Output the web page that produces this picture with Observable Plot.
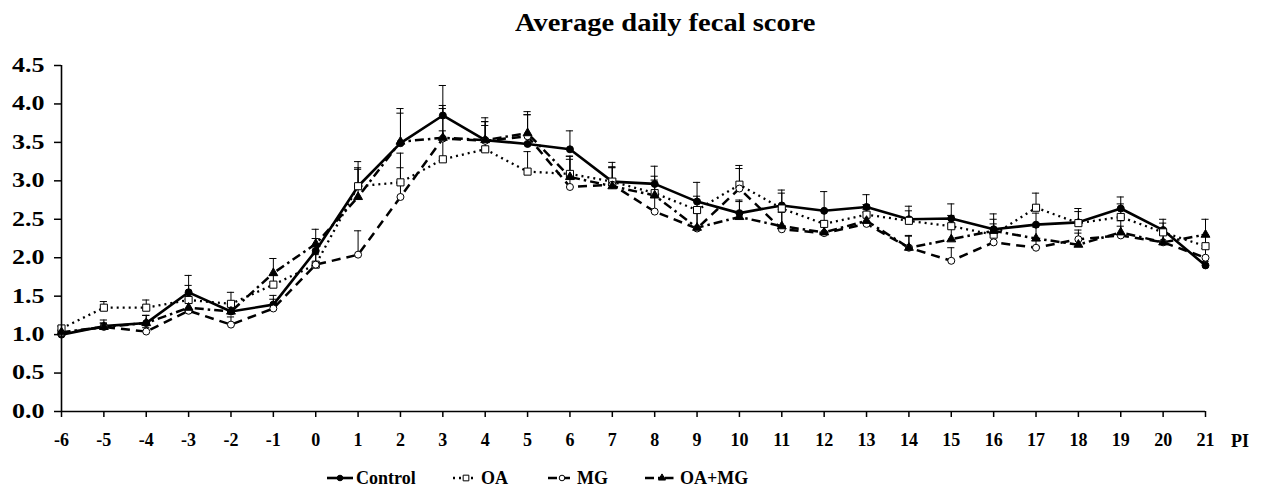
<!DOCTYPE html>
<html>
<head>
<meta charset="utf-8">
<script src="https://cdn.jsdelivr.net/npm/d3@7"></script>
<script src="https://cdn.jsdelivr.net/npm/@observablehq/plot@0.6"></script>
<style>
  html, body { margin: 0; padding: 0; background: #fff; }
  #wrap { position: relative; width: 1263px; height: 489px; overflow: hidden;
          font-family: "Liberation Serif", "Times New Roman", serif; font-weight: bold; color: #000; }
  #title { position: absolute; left: 515px; top: 10px; font-size: 25px; line-height: 25px;
           white-space: nowrap; transform: scaleX(1.14); transform-origin: 0 0; }
  #chart { position: absolute; left: 0; top: 0; }
  #overlay { position: absolute; left: 0; top: 0; pointer-events: none; }
</style>
</head>
<body>
<div id="wrap">
  <div id="chart"></div>
  <div id="title">Average daily fecal score</div>
  <svg id="overlay" width="1263" height="489"></svg>
</div>
<script>
// ---- data ----
const days = [-6,-5,-4,-3,-2,-1,0,1,2,3,4,5,6,7,8,9,10,11,12,13,14,15,16,17,18,19,20,21];
const yTicks = [0,0.5,1,1.5,2,2.5,3,3.5,4,4.5];
const seriesNames = ["Control","OA","MG","OA+MG"];

const control   = [1.00,1.11,1.15,1.55,1.30,1.39,2.09,2.93,3.49,3.85,3.53,3.48,3.41,2.99,2.96,2.73,2.58,2.68,2.61,2.66,2.50,2.51,2.37,2.43,2.46,2.64,2.36,1.90];
const controlSE = [0.03,0.08,0.10,0.22,0.10,0.12,0.16,0.32,0.45,0.39,0.29,0.42,0.24,0.25,0.23,0.25,0.17,0.20,0.25,0.16,0.17,0.19,0.20,0.15,0.18,0.15,0.14,0.05];
const oa        = [1.08,1.35,1.35,1.45,1.40,1.65,1.91,2.93,2.98,3.28,3.41,3.12,3.09,2.99,2.84,2.62,2.95,2.64,2.44,2.56,2.48,2.41,2.30,2.65,2.45,2.53,2.33,2.15];
const oaSE      = [0.03,0.08,0.10,0.19,0.15,0.12,0.13,0.22,0.38,0.37,0.31,0.26,0.23,0.19,0.17,0.18,0.25,0.20,0.17,0.13,0.13,0.14,0.14,0.19,0.15,0.17,0.12,0.15];
const mg        = [1.02,1.10,1.04,1.31,1.13,1.34,1.91,2.04,2.79,3.55,3.52,3.58,2.92,2.95,2.60,2.38,2.90,2.37,2.32,2.44,2.13,1.96,2.20,2.13,2.24,2.29,2.20,2.00];
const mgSE      = [0.03,0.05,0.05,0.15,0.10,0.12,0.15,0.31,0.38,0.39,0.25,0.28,0.36,0.22,0.20,0.20,0.26,0.22,0.15,0.15,0.15,0.17,0.12,0.12,0.12,0.12,0.10,0.12];
const oamg      = [1.03,1.10,1.15,1.35,1.30,1.80,2.18,2.79,3.51,3.56,3.53,3.62,3.05,2.93,2.81,2.39,2.53,2.41,2.33,2.48,2.13,2.24,2.35,2.25,2.17,2.33,2.20,2.30];
const oamgSE    = [0.03,0.05,0.10,0.15,0.10,0.19,0.19,0.38,0.37,0.42,0.24,0.24,0.27,0.25,0.25,0.20,0.20,0.22,0.15,0.15,0.16,0.20,0.15,0.15,0.15,0.15,0.15,0.20];

// ---- styles ----
const styles = {
  "Control": {dash: "none",      sw: 2.6, symbol: "circle",   fill: "black", r: 3.5},
  "OA":      {dash: "2 4",       sw: 2.3, symbol: "square",   fill: "white", r: 4.0},
  "MG":      {dash: "9 6",       sw: 2.5, symbol: "circle",   fill: "white", r: 3.5},
  "OA+MG":   {dash: "9 4 2.5 4", sw: 2.5, symbol: "triangle", fill: "black", r: 3.3}
};
const seriesData = {"Control": [control, controlSE], "OA": [oa, oaSE], "MG": [mg, mgSE], "OA+MG": [oamg, oamgSE]};

const capHalf = 0.085; // half cap width in day units
const marks = [];
for (const name of seriesNames) {
  const [vals, se] = seriesData[name];
  const rows = days.map((d, i) => ({day: d, v: vals[i], top: vals[i] + se[i]}));
  const s = styles[name];
  marks.push(Plot.line(rows, {x: "day", y: "v", stroke: "black", strokeWidth: s.sw,
    strokeDasharray: s.dash, strokeLinejoin: "miter", strokeLinecap: "butt"}));
  marks.push(Plot.ruleX(rows, {x: "day", y1: "v", y2: "top", stroke: "black", strokeWidth: 1}));
  marks.push(Plot.ruleY(rows, {y: "top", x1: d => d.day - capHalf, x2: d => d.day + capHalf, stroke: "black", strokeWidth: 1}));
}
for (const name of seriesNames) {
  const [vals] = seriesData[name];
  const rows = days.map((d, i) => ({day: d, v: vals[i]}));
  const s = styles[name];
  marks.push(Plot.dot(rows, {x: "day", y: "v", symbol: s.symbol, r: s.r, fill: s.fill,
    stroke: "black", strokeWidth: 1}));
}

const chart = Plot.plot({
  width: 1263, height: 489,
  marginLeft: 61, marginRight: 58, marginTop: 65, marginBottom: 78,
  style: {fontFamily: "'Liberation Serif', 'Times New Roman', serif", fontWeight: "bold", background: "white", color: "black"},
  x: {domain: [-6, 21]},
  y: {domain: [0, 4.5]},
  marks: [
    Plot.axisY({ticks: yTicks, tickFormat: d3.format(".1f"), tickSize: 7, tickPadding: 10,
      fontSize: 20, strokeWidth: 1.5, label: null}),
    Plot.axisX({ticks: days, tickFormat: d => String(d), tickSize: 6, tickPadding: 16,
      fontSize: 18, strokeWidth: 1.5, label: null}),
    ...marks,
    Plot.ruleX([-6], {stroke: "black", strokeWidth: 1.6}),
    Plot.ruleY([0], {stroke: "black", strokeWidth: 1.6})
  ]
});
document.getElementById("chart").appendChild(chart);

// stretch y tick labels horizontally like the reference (wrap each text in a scaled group)
chart.querySelectorAll('g[aria-label="y-axis tick label"] text').forEach(t => {
  const parent = t.parentNode;
  const r = t.getBoundingClientRect();
  const m = parent.getScreenCTM().inverse();
  const pt = chart.createSVGPoint();
  pt.x = r.right; pt.y = r.top + r.height / 2;
  const p = pt.matrixTransform(m);
  const g = document.createElementNS("http://www.w3.org/2000/svg", "g");
  g.setAttribute("transform", `translate(${p.x},${p.y}) scale(1.3,1) translate(${-p.x},${-p.y})`);
  parent.insertBefore(g, t);
  g.appendChild(t);
});

// ---- overlay: axis unit label and legend ----
const ov = d3.select("#overlay");
ov.append("text").attr("x", 1231).attr("y", 447)
  .attr("font-family", "'Liberation Serif', 'Times New Roman', serif").attr("font-weight", "bold")
  .attr("font-size", 18).text("PI");

const legendItems = [
  {name: "Control", x0: 327, x1: 353, mx: 340, tx: 356},
  {name: "OA",      x0: 453, x1: 477, mx: 466, tx: 481},
  {name: "MG",      x0: 548, x1: 570, mx: 562, tx: 577},
  {name: "OA+MG",   x0: 645, x1: 676, mx: 662, tx: 680}
];
const ly = 478;
const symMap = {circle: d3.symbolCircle, square: d3.symbolSquare, triangle: d3.symbolTriangle};
for (const it of legendItems) {
  const s = styles[it.name];
  ov.append("line").attr("x1", it.x0).attr("x2", it.x1).attr("y1", ly).attr("y2", ly)
    .attr("stroke", "black").attr("stroke-width", s.sw)
    .attr("stroke-dasharray", s.dash === "none" ? null : s.dash);
  ov.append("path").attr("transform", `translate(${it.mx},${ly})`)
    .attr("d", d3.symbol(symMap[s.symbol], Math.PI * (s.r * 0.8) ** 2)())
    .attr("fill", s.fill).attr("stroke", "black").attr("stroke-width", 1);
  ov.append("text").attr("x", it.tx).attr("y", ly + 6)
    .attr("font-family", "'Liberation Serif', 'Times New Roman', serif").attr("font-weight", "bold")
    .attr("font-size", 18).text(it.name);
}
</script>
</body>
</html>
